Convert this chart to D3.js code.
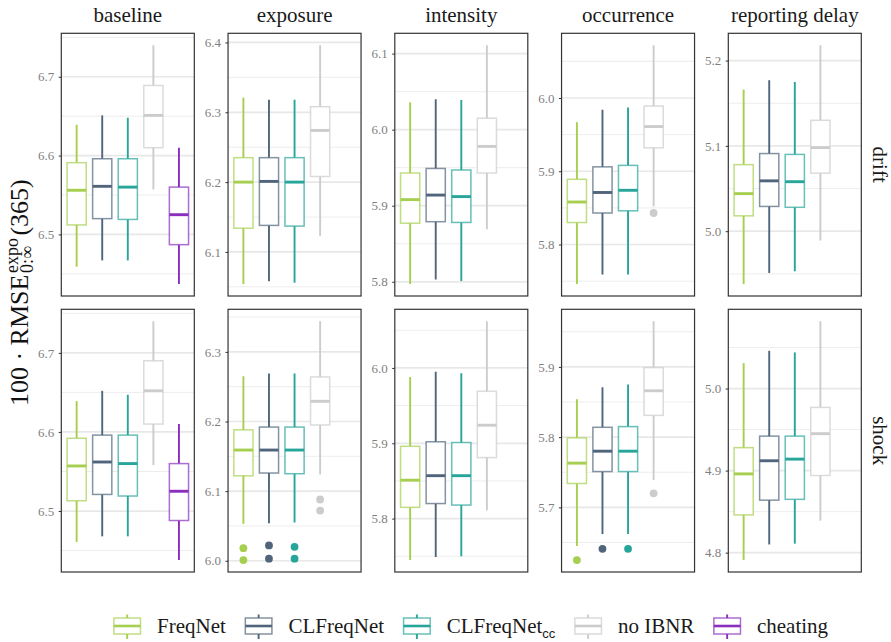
<!DOCTYPE html>
<html><head><meta charset="utf-8">
<script src="https://cdn.jsdelivr.net/npm/d3@7"></script>
<style>body{margin:0;background:#fff}</style>
</head><body><svg id="c" width="891" height="642"></svg>
<script>
// ---------------- data ----------------
const models = ["FreqNet", "CLFreqNet", "CLFreqNet_cc", "no IBNR", "cheating"];
const modelColors = ["#a6ce4f", "#50657b", "#27a59a", "#cccccc", "#8a2ebe"];
const scenarios = ["baseline", "exposure", "intensity", "occurrence", "reporting delay"];
const shockTypes = ["drift", "shock"];

// box stats per model: [lower whisker, Q1, median, Q3, upper whisker]; null = model absent
const baselineDrift   = [[6.459,6.512,6.556,6.591,6.639],[6.467,6.520,6.561,6.596,6.651],[6.467,6.519,6.560,6.596,6.648],[6.557,6.610,6.651,6.689,6.740],[6.437,6.487,6.525,6.560,6.610]];
const exposureDrift   = [[6.054,6.134,6.200,6.235,6.321],[6.058,6.138,6.201,6.235,6.318],[6.056,6.137,6.200,6.235,6.318],[6.123,6.208,6.274,6.308,6.396],null];
const intensityDrift  = [[5.797,5.877,5.908,5.943,6.036],[5.803,5.879,5.914,5.949,6.040],[5.801,5.878,5.912,5.947,6.039],[5.869,5.943,5.978,6.015,6.111],null];
const occurrenceDrift = [[5.746,5.830,5.858,5.889,5.967],[5.759,5.843,5.871,5.906,5.984],[5.759,5.846,5.874,5.908,5.987],[5.852,5.932,5.961,5.989,6.072],null];
const reportingDrift  = [[4.938,5.018,5.044,5.078,5.166],[4.951,5.029,5.059,5.091,5.177],[4.953,5.028,5.058,5.090,5.175],[4.989,5.068,5.098,5.130,5.218],null];

const baselineShock   = [[6.461,6.513,6.557,6.592,6.639],[6.468,6.521,6.562,6.596,6.652],[6.468,6.519,6.560,6.596,6.647],[6.558,6.610,6.652,6.690,6.740],[6.438,6.488,6.525,6.560,6.610]];
const exposureShock   = [[6.053,6.122,6.159,6.188,6.265],[6.054,6.126,6.159,6.192,6.269],[6.055,6.125,6.159,6.192,6.269],[6.124,6.195,6.229,6.264,6.344],null];
const intensityShock  = [[5.745,5.815,5.851,5.896,5.988],[5.749,5.820,5.857,5.902,5.995],[5.750,5.818,5.857,5.901,5.993],[5.811,5.881,5.924,5.969,6.062],null];
const occurrenceShock = [[5.645,5.734,5.763,5.799,5.854],[5.662,5.751,5.780,5.814,5.871],[5.662,5.751,5.780,5.815,5.875],[5.739,5.831,5.866,5.899,5.965],null];
const reportingShock  = [[4.791,4.846,4.896,4.928,5.031],[4.810,4.864,4.912,4.942,5.046],[4.811,4.865,4.914,4.942,5.044],[4.839,4.894,4.945,4.977,5.082],null];

// outliers per model
const noOutliers          = [[],[],[],[],[]];
const occurrenceDriftOut  = [[],[],[],[5.843],[]];
const exposureShockOut    = [[6.018,6.001],[6.022,6.003],[6.020,6.003],[6.088,6.072],[]];
const occurrenceShockOut  = [[5.625],[5.641],[5.641],[5.720],[]];

const statTable = {
  drift: [baselineDrift, exposureDrift, intensityDrift, occurrenceDrift, reportingDrift],
  shock: [baselineShock, exposureShock, intensityShock, occurrenceShock, reportingShock]
};
const outlierTable = {
  drift: [noOutliers, noOutliers, noOutliers, occurrenceDriftOut, noOutliers],
  shock: [noOutliers, exposureShockOut, noOutliers, occurrenceShockOut, noOutliers]
};

// ---------------- drawing ----------------
const svg = d3.select("#c");
const serif = "'Liberation Serif','Times New Roman',serif";
const panelW = 133, panelH = 262.7, axisGap = 33.75;
const colBand = d3.scaleBand().domain(scenarios).range([61.3 - axisGap, 861.3]);
const rowBand = d3.scaleBand().domain(shockTypes).range([33.3, 33.3 + 2 * 276]);
const xIn = d3.scaleBand().domain(models).range([0, panelW]).paddingInner(0).paddingOuter(0.1);
const color = d3.scaleOrdinal().domain(models).range(modelColors);
const boxW = xIn.bandwidth() * 0.75;
const fmt = d3.format(".1f");

shockTypes.forEach(row => {
  scenarios.forEach((sc, ci) => {
    const stats = statTable[row][ci];
    const outs = outlierTable[row][ci];
    const vals = [];
    stats.forEach((s, i) => { if (s) { vals.push(s[0], s[4]); } outs[i].forEach(v => vals.push(v)); });
    const lo = d3.min(vals), hi = d3.max(vals), pad = (hi - lo) * 0.05;
    const y = d3.scaleLinear().domain([lo - pad, hi + pad]).range([panelH, 0]);
    const px = colBand(sc) + axisGap, py = rowBand(row);
    const g = svg.append("g").attr("transform", `translate(${px},${py})`);

    // grid
    const d0 = y.domain()[0], d1 = y.domain()[1];
    const fine = d3.range(Math.ceil(d0 * 20 - 1e-9), Math.floor(d1 * 20 + 1e-9) + 1).map(k => k / 20);
    const majors = fine.filter(v => Math.abs(v * 10 - Math.round(v * 10)) < 1e-6);
    const minors = fine.filter(v => Math.abs(v * 10 - Math.round(v * 10)) >= 1e-6);
    g.selectAll(".mi").data(minors).join("line")
      .attr("x1", 0).attr("x2", panelW).attr("y1", d => y(d)).attr("y2", d => y(d))
      .attr("stroke", "#ebebeb").attr("stroke-width", 0.9);
    g.selectAll(".ma").data(majors).join("line")
      .attr("x1", 0).attr("x2", panelW).attr("y1", d => y(d)).attr("y2", d => y(d))
      .attr("stroke", "#e8e8e8").attr("stroke-width", 1.7);

    // boxes
    stats.forEach((s, i) => {
      const m = models[i], c = xIn(m) + xIn.bandwidth() / 2, col = color(m);
      if (s) {
        g.append("line").attr("x1", c).attr("x2", c).attr("y1", y(s[4])).attr("y2", y(s[3]))
          .attr("stroke", col).attr("stroke-width", 1.9);
        g.append("line").attr("x1", c).attr("x2", c).attr("y1", y(s[1])).attr("y2", y(s[0]))
          .attr("stroke", col).attr("stroke-width", 1.9);
        g.append("rect").attr("x", c - boxW / 2).attr("width", boxW)
          .attr("y", y(s[3])).attr("height", y(s[1]) - y(s[3]))
          .attr("fill", "#fff").attr("stroke", col).attr("stroke-opacity", 0.7).attr("stroke-width", 1.5);
        g.append("line").attr("x1", c - boxW / 2).attr("x2", c + boxW / 2)
          .attr("y1", y(s[2])).attr("y2", y(s[2]))
          .attr("stroke", col).attr("stroke-width", 2.9);
      }
      outs[i].forEach(v => {
        g.append("circle").attr("cx", c).attr("cy", y(v)).attr("r", 3.9).attr("fill", col);
      });
    });

    // border
    g.append("rect").attr("width", panelW).attr("height", panelH)
      .attr("fill", "none").attr("stroke", "#333333").attr("stroke-width", 1.2);

    // axis
    const ax = d3.axisLeft(y).tickValues(majors).tickFormat(fmt).tickSize(2.6).tickPadding(4.5);
    const ag = g.append("g").call(ax);
    ag.select(".domain").remove();
    ag.selectAll(".tick line").attr("stroke", "#333").attr("stroke-width", 1);
    ag.selectAll(".tick text").attr("fill", "#7f7f7f").style("font-family", serif).style("font-size", "13px");

    // strips
    if (row === "drift") {
      svg.append("text").attr("x", px + panelW / 2).attr("y", 22).attr("text-anchor", "middle")
        .style("font-family", serif).style("font-size", "21px").attr("fill", "#1a1a1a").text(sc);
    }
    if (ci === scenarios.length - 1) {
      svg.append("text").attr("transform", `translate(873,${py + panelH / 2}) rotate(90)`)
        .attr("text-anchor", "middle").style("font-family", serif).style("font-size", "21px")
        .attr("fill", "#1a1a1a").text(row);
    }
  });
});

// y-axis title: 100 · RMSE^{expo}_{0:∞}(365)
(function () {
  const fs = 26, ss = 18;
  const tg = svg.append("g").attr("transform", `translate(27.5,${(33.3 + 572) / 2 - 10}) rotate(-90)`);
  const inner = tg.append("g");
  const t1 = inner.append("text").attr("x", 0).attr("y", 0).style("font-family", serif).style("font-size", fs + "px")
    .attr("fill", "#111").text("100 \u00B7 RMSE");
  const w1 = t1.node().getComputedTextLength() + 1.5;
  const sup = inner.append("text").attr("x", w1).attr("y", -fs * 0.36).style("font-family", serif)
    .style("font-size", ss + "px").attr("fill", "#111").text("expo");
  const sub = inner.append("text").attr("x", w1).attr("y", fs * 0.22).style("font-family", serif)
    .style("font-size", ss + "px").attr("fill", "#111").text("0:\u221E");
  const w2 = Math.max(sup.node().getComputedTextLength(), sub.node().getComputedTextLength()) + 2.5;
  const t3 = inner.append("text").attr("x", w1 + w2).attr("y", 0).style("font-family", serif)
    .style("font-size", fs + "px").attr("fill", "#111").text("(365)");
  const total = w1 + w2 + t3.node().getComputedTextLength();
  inner.attr("transform", `translate(${-total / 2},0)`);
})();

// legend
(function () {
  const lg = svg.append("g");
  const keyW = 26.6, gapKT = 16.5, gapItem = 19.5, cy = 626;
  let x = 0;
  models.forEach((m, i) => {
    const it = lg.append("g");
    const col = color(m);
    const kc = keyW / 2;
    it.append("line").attr("x1", kc).attr("x2", kc).attr("y1", cy - 11.5).attr("y2", cy - 8).attr("stroke", col).attr("stroke-width", 1.9);
    it.append("line").attr("x1", kc).attr("x2", kc).attr("y1", cy + 8).attr("y2", cy + 13).attr("stroke", col).attr("stroke-width", 1.9);
    it.append("rect").attr("x", 0).attr("y", cy - 8).attr("width", keyW).attr("height", 16)
      .attr("fill", "#fff").attr("stroke", col).attr("stroke-opacity", 0.7).attr("stroke-width", 1.5);
    it.append("line").attr("x1", 0).attr("x2", keyW).attr("y1", cy).attr("y2", cy).attr("stroke", col).attr("stroke-width", 2.6);
    const t = it.append("text").attr("x", keyW + gapKT).attr("y", cy + 7)
      .style("font-family", serif).style("font-size", "21px").attr("fill", "#1a1a1a");
    if (m === "CLFreqNet_cc") {
      t.append("tspan").text("CLFreqNet");
      t.append("tspan").attr("dy", 5).style("font-family", "'Liberation Sans',Arial,sans-serif").style("font-size", "13px").text("cc");
    } else {
      t.text(m);
    }
    const w = keyW + gapKT + t.node().getComputedTextLength();
    it.attr("transform", `translate(${x},0)`);
    x += w + gapItem;
  });
  const total = x - gapItem;
  lg.attr("transform", `translate(${471 - total / 2},0)`);
})();
</script>
</body></html>
